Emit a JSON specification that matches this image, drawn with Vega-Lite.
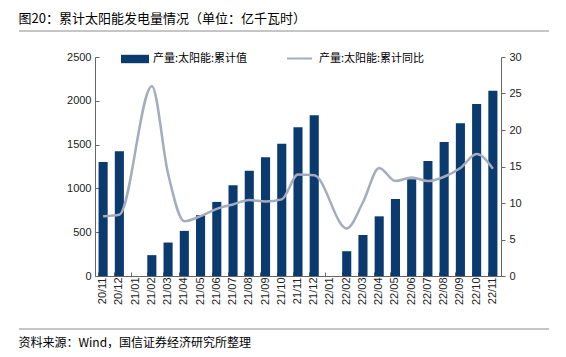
{
  "$schema": "https://vega.github.io/schema/vega-lite/v6.json",
  "padding": {"left": 18, "right": 18, "top": 13, "bottom": 3},
  "background": "white",
  "title": {
    "text": "图20：累计太阳能发电量情况（单位：亿千瓦时）",
    "anchor": "start",
    "font": "Noto Sans CJK SC",
    "fontSize": 13,
    "fontWeight": "normal",
    "color": "#000000",
    "offset": 4
  },
  "config": {
    "view": {"stroke": null},
    "axis": {"labelFont": "Liberation Sans", "labelFontSize": 11, "labelColor": "#222222", "domainColor": "#666666", "tickColor": "#666666", "grid": false, "title": null}
  },
  "spacing": 13,
  "resolve": {"scale": {"fill": "independent", "stroke": "independent"}, "legend": {"fill": "independent", "stroke": "independent"}},
  "data": {
    "values": [
      {"month": "20/11", "value": 1301, "yoy": 8.2},
      {"month": "20/12", "value": 1423, "yoy": 8.4},
      {"month": "21/01", "value": null, "yoy": null},
      {"month": "21/02", "value": 238, "yoy": 26.0},
      {"month": "21/03", "value": 382, "yoy": 14.0},
      {"month": "21/04", "value": 515, "yoy": 7.5},
      {"month": "21/05", "value": 694, "yoy": 8.2},
      {"month": "21/06", "value": 846, "yoy": 9.2},
      {"month": "21/07", "value": 1035, "yoy": 9.8},
      {"month": "21/08", "value": 1202, "yoy": 10.4},
      {"month": "21/09", "value": 1355, "yoy": 10.2},
      {"month": "21/10", "value": 1510, "yoy": 10.5},
      {"month": "21/11", "value": 1697, "yoy": 13.9},
      {"month": "21/12", "value": 1834, "yoy": 13.8},
      {"month": "22/01", "value": null, "yoy": null},
      {"month": "22/02", "value": 283, "yoy": 6.5},
      {"month": "22/03", "value": 468, "yoy": 10.1},
      {"month": "22/04", "value": 681, "yoy": 14.8},
      {"month": "22/05", "value": 879, "yoy": 13.0},
      {"month": "22/06", "value": 1104, "yoy": 13.5},
      {"month": "22/07", "value": 1313, "yoy": 13.0},
      {"month": "22/08", "value": 1530, "yoy": 13.6},
      {"month": "22/09", "value": 1743, "yoy": 14.8},
      {"month": "22/10", "value": 1963, "yoy": 16.7},
      {"month": "22/11", "value": 2115, "yoy": 14.7}
    ]
  },
  "vconcat": [
    {
      "width": 454,
      "height": 1,
      "data": {"values": [{"a": 0, "b": 1}]},
      "mark": {"type": "rule", "color": "#8c8c8c", "strokeWidth": 1, "clip": false},
      "encoding": {
        "x": {"field": "a", "type": "quantitative", "scale": {"domain": [0, 1], "range": [-76, 454]}, "axis": null},
        "x2": {"field": "b"},
        "y": {"datum": 0, "type": "quantitative", "scale": {"domain": [0, 1]}, "axis": null}
      }
    },
    {
      "width": 406,
      "height": 219,
      "encoding": {
        "x": {
          "field": "month",
          "type": "ordinal",
          "scale": {
            "domain": ["20/11","20/12","21/01","21/02","21/03","21/04","21/05","21/06","21/07","21/08","21/09","21/10","21/11","21/12","22/01","22/02","22/03","22/04","22/05","22/06","22/07","22/08","22/09","22/10","22/11"],
            "paddingInner": 0.44,
            "paddingOuter": 0.22
          },
          "axis": {"labelAngle": -90, "bandPosition": 0, "tickSize": -4, "labelPadding": 5, "minExtent": 39, "maxExtent": 39, "labelBaseline": "middle", "labelAlign": "right"}
        }
      },
      "layer": [
        {
          "mark": {"type": "bar"},
          "encoding": {
            "y": {
              "field": "value",
              "type": "quantitative",
              "scale": {"domain": [0, 2500], "nice": false},
              "axis": {"values": [0, 500, 1000, 1500, 2000, 2500], "format": "d", "tickSize": -4, "labelPadding": 8, "minExtent": 76, "maxExtent": 76}
            },
            "fill": {
              "datum": "产量:太阳能:累计值",
              "scale": {"range": ["#0b3a6e"]},
              "legend": {
                "orient": "none", "legendX": 26, "legendY": -12, "title": null,
                "symbolType": "M-1,-0.3H1V0.3H-1Z", "symbolSize": 784, "symbolStrokeWidth": 0,
                "labelFont": "Noto Sans CJK SC", "labelFontSize": 11, "labelColor": "#000000", "labelOffset": 4
              }
            }
          }
        },
        {
          "transform": [{"filter": "datum.yoy != null"}],
          "mark": {"type": "line", "interpolate": "monotone", "strokeWidth": 2.5},
          "encoding": {
            "y": {
              "field": "yoy",
              "type": "quantitative",
              "scale": {"domain": [0, 30], "nice": false},
              "axis": {"orient": "right", "values": [0, 5, 10, 15, 20, 25, 30], "tickSize": 4, "labelPadding": 4, "minExtent": 48, "maxExtent": 48}
            },
            "stroke": {
              "datum": "产量:太阳能:累计同比",
              "scale": {"range": ["#a4adbe"]},
              "legend": {
                "orient": "none", "legendX": 191, "legendY": -12, "title": null,
                "symbolType": "stroke", "symbolSize": 625, "symbolStrokeWidth": 2,
                "labelFont": "Noto Sans CJK SC", "labelFontSize": 11, "labelColor": "#000000", "labelOffset": 6
              }
            }
          }
        }
      ],
      "resolve": {"scale": {"y": "independent"}}
    },
    {
      "width": 454,
      "height": 1,
      "data": {"values": [{"a": 0, "b": 1}]},
      "title": {
        "text": "资料来源：Wind，国信证券经济研究所整理",
        "orient": "bottom",
        "anchor": "start",
        "font": "Noto Sans CJK SC",
        "fontSize": 12,
        "fontWeight": "normal",
        "color": "#000000",
        "offset": 8
      },
      "mark": {"type": "rule", "color": "#8c8c8c", "strokeWidth": 1, "clip": false},
      "encoding": {
        "x": {"field": "a", "type": "quantitative", "scale": {"domain": [0, 1], "range": [-76, 454]}, "axis": null},
        "x2": {"field": "b"},
        "y": {"datum": 1, "type": "quantitative", "scale": {"domain": [0, 1]}, "axis": null}
      }
    }
  ]
}
